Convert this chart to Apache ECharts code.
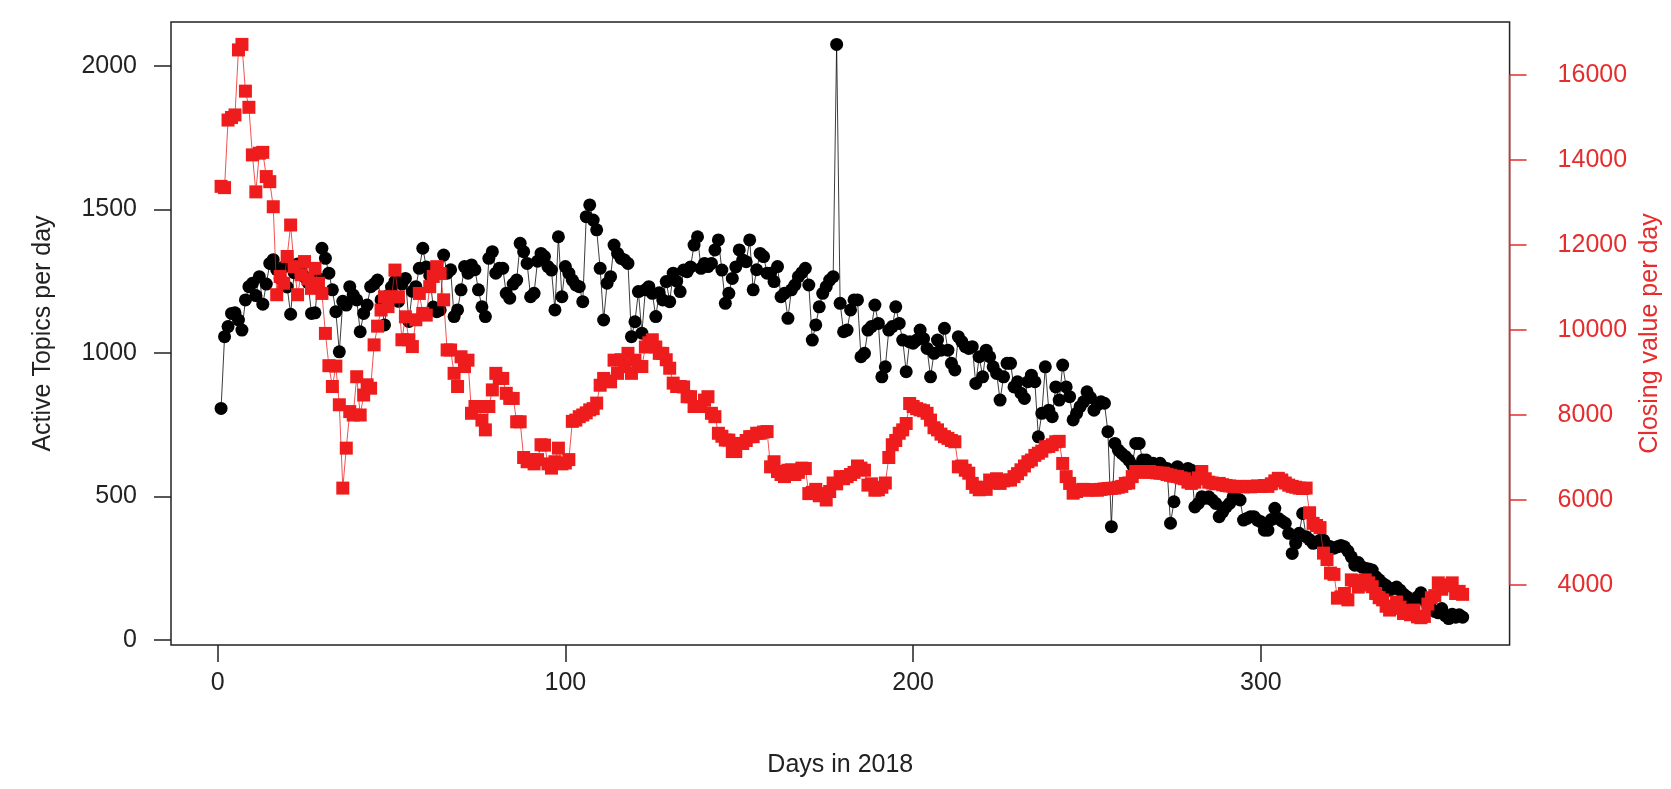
<!DOCTYPE html>
<html>
<head>
<meta charset="utf-8">
<script src="https://cdn.jsdelivr.net/npm/echarts@6/dist/echarts.min.js"></script>
<style>
html,body{margin:0;padding:0;background:#fff;}
#chart{width:1671px;height:789px;}
</style>
</head>
<body>
<div id="chart"></div>
<script>
// Active topics per day (days 1..358)
const activeTopics = [
807,1057,1092,1138,1140,1115,1080,1185,1231,1243,
1200,1266,1170,1240,1312,1325,1290,1260,1300,1230,
1135,1280,1310,1290,1266,1245,1138,1140,1260,1365,
1330,1278,1220,1144,1004,1180,1167,1231,1202,1185,
1074,1138,1167,1231,1240,1254,1185,1098,1200,1230,
1250,1180,1240,1260,1110,1215,1231,1295,1365,1300,
1270,1160,1144,1150,1341,1278,1290,1127,1150,1220,
1301,1278,1307,1290,1220,1161,1127,1330,1353,1278,
1295,1295,1208,1191,1240,1254,1382,1353,1312,1196,
1208,1320,1347,1336,1301,1289,1150,1405,1196,1301,
1278,1254,1237,1231,1179,1475,1516,1463,1429,1295,
1115,1243,1266,1376,1347,1330,1324,1312,1057,1109,
1214,1069,1220,1231,1208,1127,1210,1185,1249,1179,
1278,1250,1214,1289,1283,1300,1376,1405,1295,1312,
1301,1312,1359,1394,1289,1173,1208,1260,1300,1359,
1324,1318,1394,1220,1290,1347,1336,1278,1278,1249,
1301,1196,1208,1121,1220,1237,1266,1280,1295,1237,
1045,1098,1161,1208,1231,1254,1266,2075,1173,1074,
1080,1150,1185,1185,987,999,1080,1092,1167,1103,
917,952,1080,1092,1161,1103,1045,935,1039,1034,
1045,1080,1050,1016,917,999,1045,1010,1086,1010,
964,941,1057,1040,1022,1016,1022,894,987,917,
1010,987,952,929,836,917,964,964,882,900,
860,842,900,923,900,708,790,952,801,778,
882,836,958,882,848,767,790,813,830,865,
845,801,820,830,825,726,395,685,662,650,
640,627,610,685,685,627,627,616,616,600,
616,600,598,407,482,604,569,581,598,592,
464,476,499,494,499,488,476,430,447,464,
476,499,494,488,418,424,430,430,418,412,
383,383,420,459,424,415,407,372,302,337,
372,441,360,350,337,340,348,348,330,325,
320,325,330,325,310,290,261,270,255,250,
248,244,221,210,198,190,174,180,185,174,
160,151,140,122,150,165,140,120,110,100,
95,110,85,75,90,80,88,80
];

// Closing value per day (days 1..358)
const closingValue = [
13380,13350,14940,15000,15060,16590,16720,15620,15240,14120,
13250,14160,14180,13610,13490,12900,10830,11260,11100,11730,
12470,11490,10830,11300,11610,11200,10980,11450,11100,10860,
9920,9160,8670,9150,8240,6280,7220,8080,8000,8900,
8000,8470,8710,8630,9650,10090,10470,10780,10550,10780,
11410,10780,9770,10310,9770,9610,10240,10860,10390,10350,
11020,11260,11490,11330,10710,9530,9530,8980,8670,9370,
9140,9290,8040,8200,8200,7880,7650,8200,8590,8980,
8860,8860,8510,8390,8390,7840,7840,7000,6900,6950,
6850,6950,7300,7290,6850,6750,6900,7220,6850,6870,
6950,7850,7880,7960,8000,8050,8120,8150,8280,8700,
8860,8800,8780,9290,8980,9300,9140,9450,8980,9290,
9140,9140,9600,9700,9770,9600,9450,9450,9300,9100,
8750,8670,8670,8660,8430,8430,8200,8200,8200,8350,
8430,8040,7960,7570,7500,7410,7410,7140,7140,7330,
7330,7400,7490,7490,7570,7570,7600,7610,6780,6900,
6670,6600,6550,6700,6710,6600,6650,6750,6740,6150,
6180,6250,6100,6150,6000,6200,6400,6380,6550,6500,
6550,6600,6650,6800,6750,6700,6350,6380,6230,6240,
6300,6400,7000,7300,7400,7570,7650,7800,8270,8200,
8150,8120,8100,8040,7880,7700,7650,7550,7490,7450,
7400,7370,6780,6800,6700,6630,6390,6300,6240,6300,
6250,6470,6400,6500,6390,6450,6470,6470,6550,6620,
6710,6800,6900,6940,7050,7100,7150,7250,7260,7300,
7370,7380,6860,6550,6390,6160,6200,6240,6250,6230,
6240,6240,6230,6250,6260,6270,6275,6280,6300,6320,
6390,6400,6550,6670,6660,6650,6670,6670,6650,6640,
6630,6630,6600,6580,6560,6550,6520,6500,6420,6390,
6420,6520,6670,6500,6420,6400,6380,6390,6360,6340,
6330,6320,6310,6320,6310,6320,6310,6320,6330,6320,
6340,6320,6380,6450,6510,6470,6400,6350,6320,6300,
6280,6270,6280,5700,5450,5400,5350,4750,4600,4280,
4250,3690,3720,3800,3650,4120,4100,3950,4000,4120,
4050,3960,3800,3700,3650,3500,3410,3450,3600,3480,
3330,3400,3300,3410,3250,3230,3260,3550,3700,3750,
4050,3900,4000,3980,4050,3800,3850,3780
];

const xTicks = [0, 100, 200, 300];
const leftTicks = [0, 500, 1000, 1500, 2000];
const rightTicks = [4000, 6000, 8000, 10000, 12000, 14000, 16000];

const FONT = 'Liberation Sans, Arial, sans-serif';
const FS = 25;
const RED = '#ee1c1c';
const RED_TXT = '#e52d2d';
const plain = v => String(v);

const chart = echarts.init(document.getElementById('chart'), null, {renderer: 'canvas'});

const option = {
  animation: false,
  backgroundColor: '#ffffff',
  grid: {
    left: 171, right: 149, top: 22, bottom: 144,
    show: true, borderColor: '#222', borderWidth: 1.5, backgroundColor: 'transparent'
  },
  xAxis: {
    type: 'value', min: -13.4, max: 371.5,
    name: 'Days in 2018', nameLocation: 'middle', nameGap: 108,
    nameTextStyle: {fontFamily: FONT, fontSize: FS, color: '#222'},
    axisLine: {show: false, onZero: false},
    splitLine: {show: false},
    axisTick: {show: true, length: 17, inside: false, customValues: xTicks, lineStyle: {color: '#222', width: 1.5}},
    axisLabel: {show: true, customValues: xTicks, formatter: plain, margin: 26, fontFamily: FONT, fontSize: FS, color: '#222'}
  },
  yAxis: [
    {
      type: 'value', position: 'left', min: -17, max: 2153,
      name: 'Active Topics per day', nameLocation: 'middle', nameGap: 115,
      nameTextStyle: {fontFamily: FONT, fontSize: FS, color: '#222'},
      axisLine: {show: false, onZero: false},
      splitLine: {show: false},
      axisTick: {show: true, length: 17, customValues: leftTicks, lineStyle: {color: '#222', width: 1.5}},
      axisLabel: {show: true, customValues: leftTicks, formatter: plain, margin: 34, fontFamily: FONT, fontSize: FS, color: '#222'}
    },
    {
      type: 'value', position: 'right', min: 2588, max: 17247,
      name: 'Closing value per day', nameLocation: 'middle', nameGap: 96,
      nameTextStyle: {fontFamily: FONT, fontSize: FS, color: RED_TXT},
      axisLine: {show: false, onZero: false},
      splitLine: {show: false},
      axisTick: {show: true, length: 17, customValues: rightTicks, lineStyle: {color: RED_TXT, width: 1.5}},
      axisLabel: {show: true, customValues: rightTicks, formatter: plain, margin: 48, fontFamily: FONT, fontSize: FS, color: RED_TXT}
    }
  ],
  series: [
    {
      name: 'Active Topics', type: 'line', xAxisIndex: 0, yAxisIndex: 0, z: 2,
      data: activeTopics.map((v, i) => [i + 1, v]),
      symbol: 'circle', symbolSize: 13, showAllSymbol: true,
      itemStyle: {color: '#000'},
      lineStyle: {color: '#000', width: 0.9, opacity: 0.85}
    },
    {
      name: 'Closing value', type: 'line', xAxisIndex: 0, yAxisIndex: 1, z: 3,
      data: closingValue.map((v, i) => [i + 1, v]),
      symbol: 'rect', symbolSize: 13, showAllSymbol: true,
      itemStyle: {color: RED},
      lineStyle: {color: RED, width: 0.9, opacity: 0.85}
    }
  ]
};
chart.setOption(option);

// red right axis line spanning first to last tick (R style)
const xr = chart.convertToPixel({xAxisIndex: 0}, 371.5);
const yLo = chart.convertToPixel({yAxisIndex: 1}, rightTicks[0]);
const yHi = chart.convertToPixel({yAxisIndex: 1}, rightTicks[rightTicks.length - 1]);
chart.setOption({
  graphic: [{
    type: 'line', z: 100,
    shape: {x1: xr, y1: yHi, x2: xr, y2: yLo},
    style: {stroke: RED_TXT, lineWidth: 1.5}
  }]
});
</script>
</body>
</html>
